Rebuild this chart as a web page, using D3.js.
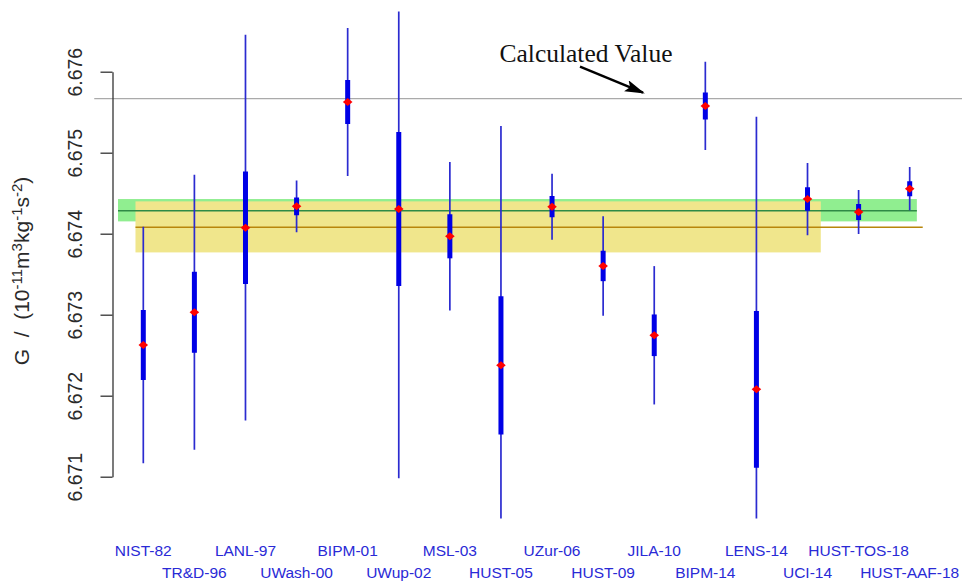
<!DOCTYPE html>
<html><head><meta charset="utf-8">
<script src="https://cdn.jsdelivr.net/npm/d3@7"></script>
<style>body{margin:0;background:#fff} svg{display:block}</style>
</head><body>
<svg id="chart" width="964" height="582"></svg>
<script>
// ---- data ----
const labs = ["NIST-82","TR&D-96","LANL-97","UWash-00","BIPM-01","UWup-02","MSL-03","HUST-05","UZur-06","HUST-09","JILA-10","BIPM-14","LENS-14","UCI-14","HUST-TOS-18","HUST-AAF-18"];
const gVal   = [6.672626,6.673030,6.674074,6.674338,6.675626,6.674305,6.673968,6.672375,6.674333,6.673601,6.672746,6.675577,6.672079,6.674428,6.674268,6.674556];
const uThick = [0.000432,0.000500,0.000695,0.000109,0.000273,0.000952,0.000272,0.000854,0.000131,0.000187,0.000257,0.000167,0.000967,0.000144,0.000099,0.000093];
const uThin  = [0.001460,0.001698,0.002381,0.000319,0.000915,0.003325,0.000916,0.002954,0.000407,0.000613,0.000854,0.000545,0.003365,0.000446,0.000272,0.000267];
const yTicks = [6.671,6.672,6.673,6.674,6.675,6.676];
const calcValue = 6.675667;
const codata14 = [6.673769, 6.674079, 6.674399]; // lo, value, hi (yellow)
const codata18 = [6.674152, 6.674284, 6.674428]; // lo, value, hi (green)

// ---- layout ----
const svg = d3.select("#chart");
const y = d3.scaleLinear().domain([6.671, 6.676]).range([476.7, 71.7]);
const xi = d3.scaleLinear().domain([0, labs.length - 1]).range([143.3, 909.7]);
const x = d3.scalePoint().domain(labs).range([143.3, 909.7]);
const axisX = 112.5;
const plotTop = 11.5, plotBottom = 518.5;

svg.append("defs").append("clipPath").attr("id","plotclip")
  .append("rect").attr("x",0).attr("y",plotTop).attr("width",964).attr("height",plotBottom-plotTop);

svg.select("defs").append("marker")
  .attr("id","arrowhead").attr("markerUnits","userSpaceOnUse")
  .attr("markerWidth",20).attr("markerHeight",12).attr("refX",18).attr("refY",6)
  .attr("orient","auto")
  .append("path").attr("d","M0,0 L20,6 L0,12 L4,6 Z").attr("fill","#000");

// bands
svg.append("rect")
  .attr("x", xi(-0.495)).attr("width", xi(15.14) - xi(-0.495))
  .attr("y", y(codata18[2])).attr("height", y(codata18[0]) - y(codata18[2]))
  .attr("fill", "#90ee90");
svg.append("rect")
  .attr("x", xi(-0.153)).attr("width", xi(13.26) - xi(-0.153))
  .attr("y", y(codata14[2])).attr("height", y(codata14[0]) - y(codata14[2]))
  .attr("fill", "#f0e68c");
svg.append("line")
  .attr("x1", xi(-0.495)).attr("x2", xi(15.14))
  .attr("y1", y(codata18[1])).attr("y2", y(codata18[1]))
  .attr("stroke", "#2f8a46").attr("stroke-width", 1.5);
svg.append("line")
  .attr("x1", xi(-0.153)).attr("x2", xi(15.255))
  .attr("y1", y(codata14[1])).attr("y2", y(codata14[1]))
  .attr("stroke", "#b8860b").attr("stroke-width", 1.5);

// calculated value line
svg.append("line")
  .attr("x1", xi(-0.96)).attr("x2", 962)
  .attr("y1", y(calcValue)).attr("y2", y(calcValue))
  .attr("stroke", "#aaaaaa").attr("stroke-width", 1.4);

// y axis
const ax = svg.append("g").attr("transform", `translate(${axisX},0)`)
  .call(d3.axisLeft(y).tickValues(yTicks).tickFormat(d3.format(".3f")).tickSize(12).tickSizeOuter(0));
ax.select(".domain").attr("stroke", "#333").attr("stroke-width", 1.3);
ax.selectAll(".tick line").attr("stroke", "#333").attr("stroke-width", 1.3);
ax.selectAll(".tick text")
  .attr("x", null).attr("dy", "0.35em")
  .attr("transform", "translate(-37,0) rotate(-90)")
  .attr("text-anchor", "middle")
  .attr("fill", "#2a2a2a")
  .style("font-family", "'Liberation Sans', Arial, sans-serif")
  .style("font-size", "19.5px");

// y title
const yt = svg.append("text")
  .attr("transform", "translate(22,271) rotate(-90)")
  .attr("text-anchor", "middle").attr("dy", "0.35em")
  .attr("fill", "#2a2a2a")
  .style("white-space", "pre")
  .style("font-family", "'Liberation Sans', Arial, sans-serif")
  .style("font-size", "21px");
const titleParts = [["G  /  (10",0],["-11",1],["m",0],["3",1],["kg",0],["-1",1],["s",0],["-2",1],[")",0]];
titleParts.forEach(([t, sup]) => {
  yt.append("tspan").text(t)
    .attr("baseline-shift", sup ? "45%" : null)
    .style("font-size", sup ? "15px" : null);
});

// marks
const marks = svg.append("g").attr("clip-path", "url(#plotclip)");
const rows = labs.map((d, i) => ({name: d, v: gVal[i], t: uThick[i], w: uThin[i]}));
marks.selectAll(".thin").data(rows).join("line")
  .attr("x1", d => x(d.name)).attr("x2", d => x(d.name))
  .attr("y1", d => y(d.v + d.w)).attr("y2", d => y(d.v - d.w))
  .attr("stroke", "#2b2bd0").attr("stroke-width", 1.7);
marks.selectAll(".thick").data(rows).join("line")
  .attr("x1", d => x(d.name)).attr("x2", d => x(d.name))
  .attr("y1", d => y(d.v + d.t)).attr("y2", d => y(d.v - d.t))
  .attr("stroke", "#0000e6").attr("stroke-width", 5);
marks.selectAll(".pt").data(rows).join("path")
  .attr("transform", d => `translate(${x(d.name)},${y(d.v)})`)
  .attr("d", "M0,-4 L4.8,0 L0,4 L-4.8,0 Z")
  .attr("fill", "#ff0000");

// category labels
svg.selectAll(".lab").data(labs).join("text")
  .attr("x", d => x(d))
  .attr("y", (d, i) => i % 2 === 0 ? 556 : 578)
  .attr("text-anchor", "middle")
  .attr("fill", "#2a2ad6")
  .style("font-family", "'Liberation Sans', Arial, sans-serif")
  .style("font-size", "15.5px")
  .text(d => d);

// annotation
svg.append("text")
  .attr("x", 586).attr("y", 62)
  .attr("text-anchor", "middle")
  .attr("fill", "#111")
  .style("font-family", "'Liberation Serif', 'Times New Roman', serif")
  .style("font-size", "25.5px")
  .text("Calculated Value");
svg.append("line")
  .attr("x1", 580).attr("y1", 66.7)
  .attr("x2", 643).attr("y2", y(calcValue) - 6)
  .attr("stroke", "#000").attr("stroke-width", 2.4)
  .attr("marker-end", "url(#arrowhead)");
</script>
</body></html>
